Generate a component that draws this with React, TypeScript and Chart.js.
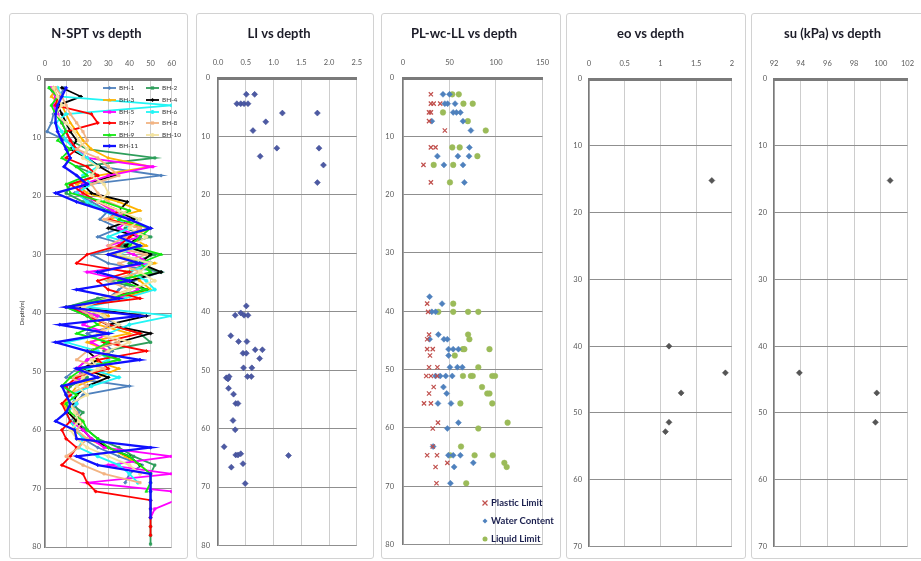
import React, { useEffect, useRef } from 'react';
import { Chart, registerables } from 'chart.js';

Chart.register(...registerables);

const FONT = 'Lato, "Open Sans", "DejaVu Sans", sans-serif';
Chart.defaults.font.family = FONT;

// ---------------- N-SPT data ----------------
const sptDepths = [1.5, 3, 4.5, 6, 7.5, 9, 10.5, 12, 13.5, 15, 16.5, 18, 19.5, 21, 22.5, 24, 25.5, 27, 28.5, 30, 31.5, 33, 34.5, 36, 37.5, 39, 40.5, 42, 43.5, 45, 46.5, 48, 49.5, 51, 52.5, 54, 55.5, 57, 58.5, 60, 61.5, 63, 64.5, 66, 67.5, 69, 70.5, 72, 73.5, 75, 76.5, 78, 79.5];

const bh1 = [9, 7, 5, 4, 3, 1, 10, 15, 20, 26, 55, 20, 14, 22, 30, 26, 35, 25, 40, 22, 30, 55, 42, 35, 30, 12, 25, 35, 20, 28, 32, 20, 15, 10, 40, 18, 14, 16, 12, 15, 18, 25, 35, 46, 40, 38];
const bh2 = [2, 5, 7, 6, 8, 10, 12, 20, 52, 15, 25, 12, 10, 18, 30, 45, 38, 50, 35, 52, 40, 55, 30, 48, 25, 10, 20, 30, 45, 50, 28, 35, 15, 20, 12, 10, 12, 18, 14, 20, 25, 35, 42, 52, 50, 50, 50, 50, 50, 50, 50, 50, 50];
const bh3 = [5, 3, 8, 10, 12, 15, 18, 22, 30, 50, 25, 15, 20, 35, 45, 30, 50, 40, 48, 30, 52, 38, 45, 50, 35, 15, 30, 25, 40, 20, 30, 22, 35, 25, 15, 12, 9, 11, 15, 13, 20, 30, 38, 45, 50];
const bh4 = [8, 17, 6, 8, 10, 12, 15, 12, 20, 26, 33, 18, 22, 39, 35, 42, 30, 45, 38, 50, 45, 55, 40, 48, 30, 15, 48, 30, 50, 35, 20, 25, 18, 30, 20, 15, 13, 11, 15, 18, 22, 30, 40, 45];
const bh5 = [3, 5, 4, 6, 8, 10, 12, 15, 20, 51, 30, 18, 15, 25, 32, 40, 35, 45, 30, 42, 50, 20, 38, 44, 35, 10, 25, 18, 30, 22, 30, 20, 15, 18, 10, 12, 15, 10, 12, 18, 22, 28, 60, 30, 60, 20, 60, 62, 52, 50];
const bh6 = [6, 8, 60, 10, 5, 8, 10, 14, 20, 25, 18, 22, 15, 20, 28, 35, 40, 30, 45, 35, 50, 40, 48, 52, 38, 20, 60, 40, 30, 10, 25, 30, 20, 35, 22, 12, 15, 10, 12, 15, 18, 16, 25, 35, 40, 44];
const bh7 = [4, 6, 5, 22, 25, 10, 12, 15, 10, 20, 25, 12, 18, 25, 35, 30, 45, 40, 35, 20, 15, 40, 25, 30, 45, 12, 20, 30, 45, 28, 48, 25, 30, 15, 10, 12, 8, 10, 12, 8, 10, 15, 12, 8, 18, 20, 24, 50, 50, 50, 50, 50];
const bh8 = [5, 8, 10, 12, 15, 18, 20, 15, 25, 30, 35, 22, 25, 30, 40, 28, 45, 38, 30, 48, 35, 45, 30, 40, 28, 15, 22, 30, 25, 35, 20, 15, 28, 12, 20, 10, 12, 15, 18, 15, 20, 16, 10, 18, 28, 45];
const bh9 = [2, 6, 3, 5, 8, 10, 6, 12, 8, 15, 20, 10, 12, 28, 40, 35, 50, 45, 40, 55, 45, 50, 35, 48, 30, 10, 20, 25, 15, 30, 22, 35, 18, 12, 8, 15, 10, 12, 18, 20, 25, 30, 40, 45, 50, 50, 48];
const bh10 = [4, 6, 8, 5, 10, 14, 16, 20, 18, 25, 22, 28, 30, 25, 35, 45, 40, 48, 42, 35, 50, 45, 52, 40, 30, 18, 28, 35, 25, 40, 30, 22, 25, 18, 15, 20, 12, 14, 16, 12, 15, 20, 30, 40, 45];
const bh11 = [10, 8, 6, 5, 5, 6, 8, 10, 12, 9, 15, 20, 5, 15, 28, 40, 50, 35, 45, 30, 45, 25, 40, 15, 35, 10, 45, 7, 30, 5, 20, 45, 15, 25, 8, 10, 12, 10, 5, 14, 15, 50, 15, 25, 50, 50, 50, 50, 50, 50];

const bhNames = ['BH-1', 'BH-2', 'BH-3', 'BH-4', 'BH-5', 'BH-6', 'BH-7', 'BH-8', 'BH-9', 'BH-10', 'BH-11'];
const bhValues = [bh1, bh2, bh3, bh4, bh5, bh6, bh7, bh8, bh9, bh10, bh11];
const bhColors = ['#4F81BD', '#2E9E5B', '#FFB300', '#000000', '#FF00FF', '#22F5F5', '#FF0000', '#F2B483', '#11E811', '#F3E3A0', '#1010FF'];
const bhMarkers = ['rectRot', 'rect', 'triangle', 'rectRot', 'rect', 'circle', 'rectRot', 'rect', 'triangle', 'circle', 'rectRot'];

// ---------------- LI data ----------------
const liDepth = [2.8, 2.8, 4.4, 4.4, 4.4, 4.4, 6.0, 6.0, 7.5, 9.0, 12.0, 12.0, 13.4, 14.9, 17.9, 39.0, 40.6, 40.2, 40.6, 40.6, 44.1, 45.1, 45.1, 47.1, 47.1, 46.5, 46.5, 48.0, 49.6, 49.6, 51.1, 51.1, 51.3, 51.5, 51.1, 53.1, 54.1, 55.7, 55.7, 58.6, 60.2, 63.1, 64.5, 64.5, 64.3, 66.6, 66.0, 64.6, 69.4];
const liValue = [0.51, 0.66, 0.34, 0.41, 0.47, 0.54, 1.16, 1.79, 0.86, 0.63, 1.06, 1.82, 0.76, 1.90, 1.79, 0.51, 0.31, 0.41, 0.47, 0.54, 0.23, 0.37, 0.52, 0.45, 0.51, 0.67, 0.80, 0.75, 0.46, 0.61, 0.53, 0.60, 0.15, 0.18, 0.20, 0.19, 0.28, 0.32, 0.36, 0.27, 0.31, 0.11, 0.32, 0.36, 0.41, 0.24, 0.45, 1.27, 0.49];

// ---------------- PL / wc / LL data ----------------
const plDepth = [2.8, 4.4, 4.4, 4.4, 5.9, 5.9, 7.4, 9.0, 11.9, 11.9, 14.9, 17.9, 38.7, 40.1, 44.0, 44.8, 46.5, 46.5, 47.6, 49.6, 49.6, 51.1, 51.1, 51.1, 53.0, 54.1, 55.8, 55.8, 59.1, 60.1, 63.2, 64.7, 64.7, 66.0, 66.7, 69.5];
const plValue = [30, 30, 33, 40, 28, 30, 28, 45, 30, 35, 22, 30, 26, 27, 28, 26, 26, 32, 29, 28, 37, 25, 30, 36.6, 33, 28, 22.6, 30, 37.6, 32, 32, 26, 36.6, 47.7, 35, 36];
const wcDepth = [2.8, 2.8, 4.4, 4.4, 4.4, 5.9, 5.9, 5.9, 7.4, 7.4, 9.0, 11.9, 13.4, 13.4, 13.4, 14.9, 14.9, 17.9, 37.5, 38.7, 40.1, 40.1, 44.0, 44.8, 44.8, 44.8, 46.5, 46.5, 46.5, 47.6, 49.6, 49.6, 49.6, 51.1, 51.1, 51.1, 51.1, 53.0, 54.1, 55.8, 55.8, 59.1, 60.1, 63.2, 64.7, 64.7, 64.7, 66.0, 66.7, 69.5];
const wcValue = [43, 50, 45, 48, 56, 54, 57.5, 61.7, 31, 64.5, 73, 71.4, 37, 59, 71, 44, 64.5, 66, 28.6, 42, 31, 35, 38, 28.6, 44, 47.7, 49, 54, 59.6, 49, 50.5, 58.5, 63.8, 35, 40, 46, 53, 43.5, 47, 37.6, 51.6, 59.6, 47.7, 32.4, 48.8, 54, 61.7, 75.6, 55, 51];
const llDepth = [2.8, 2.8, 4.4, 4.4, 5.9, 7.4, 9.0, 11.9, 11.9, 13.4, 14.9, 14.9, 17.9, 38.7, 40.1, 40.1, 40.1, 40.1, 44.0, 44.8, 46.5, 46.5, 46.5, 47.6, 49.6, 51.1, 51.1, 51.1, 51.1, 51.1, 53.0, 54.1, 54.1, 55.8, 55.8, 59.1, 60.1, 63.2, 64.7, 64.7, 64.7, 66.0, 66.7, 69.5];
const llValue = [53, 60, 65, 75, 43, 69.7, 89, 53, 61, 80, 33, 54, 50.5, 54, 38, 54, 70, 81, 70, 71.4, 64.5, 66, 93, 55.7, 81, 64.5, 73, 75, 96, 99, 85, 90.6, 93, 61.7, 96, 112.5, 81, 62.4, 50.5, 77, 96.5, 109, 111.5, 68];

// ---------------- eo / su data ----------------
const eoDepth = [15.2, 40, 44, 47, 51.4, 52.8];
const eoValue = [1.72, 1.12, 1.91, 1.29, 1.12, 1.07];
const suDepth = [15.2, 44, 47, 51.4];
const suValue = [100.7, 93.9, 99.7, 99.6];

const pts = (xs: number[], ys: number[]) => xs.map((x, i) => ({ x, y: ys[i] }));

// ---------------- drawing helpers ----------------
function drawMarker(ctx: CanvasRenderingContext2D, style: string, x: number, y: number, r: number, fill: string, stroke: string) {
  ctx.save();
  ctx.fillStyle = fill;
  ctx.strokeStyle = stroke;
  ctx.lineWidth = 1.2;
  ctx.beginPath();
  if (style === 'rectRot') {
    ctx.moveTo(x, y - r); ctx.lineTo(x + r, y); ctx.lineTo(x, y + r); ctx.lineTo(x - r, y); ctx.closePath(); ctx.fill();
  } else if (style === 'rect') {
    ctx.rect(x - r * 0.8, y - r * 0.8, r * 1.6, r * 1.6); ctx.fill();
  } else if (style === 'triangle') {
    ctx.moveTo(x, y - r); ctx.lineTo(x + r, y + r * 0.8); ctx.lineTo(x - r, y + r * 0.8); ctx.closePath(); ctx.fill();
  } else if (style === 'crossRot') {
    ctx.moveTo(x - r, y - r); ctx.lineTo(x + r, y + r); ctx.moveTo(x + r, y - r); ctx.lineTo(x - r, y + r); ctx.stroke();
  } else {
    ctx.arc(x, y, r, 0, Math.PI * 2); ctx.fill();
  }
  ctx.restore();
}

type LegendItem = { index: number; dx: number; dy: number };
function makeLegendPlugin(id: string, items: LegendItem[], cfg: { lineLen: number; gap: number; font: string; color: string; markerR: number }) {
  return {
    id,
    afterDatasetsDraw(chart: any) {
      const { ctx, chartArea } = chart;
      ctx.save();
      ctx.font = cfg.font;
      ctx.textBaseline = 'middle';
      ctx.textAlign = 'left';
      for (const it of items) {
        const ds = chart.data.datasets[it.index];
        const x = chartArea.left + it.dx;
        const y = chartArea.top + it.dy;
        const color = ds.borderColor as string;
        let mx = x;
        if (cfg.lineLen > 0) {
          ctx.strokeStyle = color;
          ctx.lineWidth = ds.borderWidth || 1.5;
          ctx.beginPath(); ctx.moveTo(x, y); ctx.lineTo(x + cfg.lineLen, y); ctx.stroke();
          mx = x + cfg.lineLen / 2;
        }
        drawMarker(ctx, ds.pointStyle, mx, y, cfg.markerR, (ds.backgroundColor as string) || color, color);
        ctx.fillStyle = cfg.color;
        ctx.fillText(ds.label, x + cfg.lineLen + cfg.gap, y);
      }
      ctx.restore();
    },
  };
}

type Spec = {
  title: string;
  xMin: number; xMax: number; xStep: number; xFmt?: (v: number) => string;
  yMax: number;
  canvasW: number; canvasH: number;
  areaLeft: number; areaTop: number; padRight: number; padBottom: number; padLeft: number;
  yPad: number; yTitle?: string;
};

const TITLE_H = 13 * 1.2 + 12 + 4;

function buildOptions(s: Spec): any {
  return {
    animation: false,
    responsive: false,
    maintainAspectRatio: false,
    events: [],
    layout: { padding: { left: s.padLeft, right: s.padRight, top: 0, bottom: s.padBottom } },
    plugins: {
      legend: { display: false },
      tooltip: { enabled: false },
      title: {
        display: true,
        text: s.title,
        color: '#1c1c28',
        font: { family: FONT, size: 13, weight: 'bold', lineHeight: 1.2 },
        padding: { top: 12, bottom: 4 },
      },
    },
    scales: {
      x: {
        type: 'linear',
        position: 'top',
        min: s.xMin,
        max: s.xMax,
        ticks: {
          stepSize: s.xStep,
          padding: 11,
          color: '#5a5a5a',
          font: { size: 7.5 },
          maxRotation: 0,
          callback: (v: number) => (s.xFmt ? s.xFmt(v) : String(v)),
        },
        grid: { color: '#cdcdcd', lineWidth: 1, drawTicks: false },
        border: { display: true, color: '#7a7a7a', width: 3 },
        afterFit: (sc: any) => { sc.height = s.areaTop - TITLE_H; },
      },
      y: {
        type: 'linear',
        reverse: true,
        min: 0,
        max: s.yMax,
        ticks: { stepSize: 10, padding: s.yPad, color: '#5a5a5a', font: { size: 7.5 } },
        grid: { color: '#8f8f8f', lineWidth: 1, drawTicks: false },
        border: { display: true, color: '#7a7a7a', width: 1.5 },
        title: s.yTitle
          ? { display: true, text: s.yTitle, color: '#333', font: { size: 6 }, padding: 0 }
          : { display: false },
        afterFit: (sc: any) => { sc.width = s.areaLeft - s.padLeft; },
      },
    },
  };
}

// ---------------- chart configs ----------------
const specs: { frame: [number, number, number, number]; spec: Spec; make: (s: Spec) => any }[] = [
  {
    frame: [9, 13, 179, 546],
    spec: { title: 'N-SPT vs depth', xMin: 0, xMax: 60, xStep: 10, yMax: 80, canvasW: 177, canvasH: 544, areaLeft: 35, areaTop: 65, padRight: 12, padBottom: 11, padLeft: 8, yPad: 4, yTitle: 'Depth(m)' },
    make: (s) => {
      const datasets = bhNames.map((name, i) => ({
        label: name,
        data: pts(bhValues[i], sptDepths.slice(0, bhValues[i].length)),
        showLine: true,
        borderColor: bhColors[i],
        backgroundColor: bhColors[i],
        borderWidth: i === 10 ? 2.3 : 1.8,
        pointStyle: bhMarkers[i],
        pointRadius: 1.6,
        pointBorderWidth: 0.8,
        tension: 0,
        order: 10 - i,
      }));
      const legendItems: LegendItem[] = [
        { index: 0, dx: 58, dy: 9 }, { index: 1, dx: 101, dy: 9 },
        { index: 2, dx: 58, dy: 21 }, { index: 3, dx: 101, dy: 21 },
        { index: 4, dx: 58, dy: 33 }, { index: 5, dx: 101, dy: 33 },
        { index: 6, dx: 58, dy: 44 }, { index: 7, dx: 101, dy: 44 },
        { index: 8, dx: 58, dy: 56 }, { index: 9, dx: 101, dy: 56 },
        { index: 10, dx: 58, dy: 67 },
      ];
      return {
        type: 'scatter',
        data: { datasets },
        options: buildOptions(s),
        plugins: [makeLegendPlugin('sptLegend', legendItems, { lineLen: 13, gap: 3, font: `6.5px ${FONT}`, color: '#333', markerR: 2 })],
      };
    },
  },
  {
    frame: [196, 13, 178, 546],
    spec: { title: 'LI vs depth', xMin: 0, xMax: 2.5, xStep: 0.5, xFmt: (v) => v.toFixed(1), yMax: 80, canvasW: 176, canvasH: 544, areaLeft: 21, areaTop: 64, padRight: 12, padBottom: 11, padLeft: 0, yPad: 8 },
    make: (s) => ({
      type: 'scatter',
      data: {
        datasets: [{
          label: 'LI', data: pts(liValue, liDepth),
          pointStyle: 'rectRot', pointRadius: 3, backgroundColor: '#4d5aa3', borderColor: '#3b4790', pointBorderWidth: 0.5,
        }],
      },
      options: buildOptions(s),
    }),
  },
  {
    frame: [381, 13, 180, 546],
    spec: { title: 'PL-wc-LL vs depth', xMin: 0, xMax: 150, xStep: 50, yMax: 80, canvasW: 178, canvasH: 544, areaLeft: 21, areaTop: 64, padRight: 14, padBottom: 12, padLeft: 0, yPad: 9 },
    make: (s) => {
      const datasets = [
        { label: 'Plastic Limit', data: pts(plValue, plDepth), pointStyle: 'crossRot', pointRadius: 3, borderColor: '#C0504D', backgroundColor: '#C0504D', pointBorderWidth: 1.2 },
        { label: 'Water Content', data: pts(wcValue, wcDepth), pointStyle: 'rectRot', pointRadius: 3, borderColor: '#4F81BD', backgroundColor: '#4F81BD', pointBorderWidth: 0.5 },
        { label: 'Liquid Limit', data: pts(llValue, llDepth), pointStyle: 'circle', pointRadius: 2.8, borderColor: '#9BBB59', backgroundColor: '#9BBB59', pointBorderWidth: 0.5 },
      ];
      const items: LegendItem[] = [
        { index: 0, dx: 82, dy: 425 },
        { index: 1, dx: 82, dy: 443 },
        { index: 2, dx: 82, dy: 461 },
      ];
      return {
        type: 'scatter',
        data: { datasets },
        options: buildOptions(s),
        plugins: [makeLegendPlugin('pwlLegend', items, { lineLen: 0, gap: 6, font: `bold 9.5px ${FONT}`, color: '#1a1f4e', markerR: 2.5 })],
      };
    },
  },
  {
    frame: [566, 13, 180, 546],
    spec: { title: 'eo vs depth', xMin: 0, xMax: 2, xStep: 0.5, yMax: 70, canvasW: 178, canvasH: 544, areaLeft: 22, areaTop: 65, padRight: 11, padBottom: 10, padLeft: 0, yPad: 7 },
    make: (s) => ({
      type: 'scatter',
      data: {
        datasets: [{
          label: 'eo', data: pts(eoValue, eoDepth),
          pointStyle: 'rectRot', pointRadius: 3, backgroundColor: '#555555', borderColor: '#444444', pointBorderWidth: 0.5,
        }],
      },
      options: buildOptions(s),
    }),
  },
  {
    frame: [751, 13, 175, 546],
    spec: { title: 'su (kPa) vs depth', xMin: 92, xMax: 102, xStep: 2, yMax: 70, canvasW: 173, canvasH: 544, areaLeft: 22, areaTop: 65, padRight: 12, padBottom: 10, padLeft: 0, yPad: 7 },
    make: (s) => ({
      type: 'scatter',
      data: {
        datasets: [{
          label: 'su', data: pts(suValue, suDepth),
          pointStyle: 'rectRot', pointRadius: 3, backgroundColor: '#555555', borderColor: '#444444', pointBorderWidth: 0.5,
        }],
      },
      options: buildOptions(s),
    }),
  },
];

function Panel({ frame, spec, make }: { frame: [number, number, number, number]; spec: Spec; make: (s: Spec) => any }) {
  const ref = useRef<HTMLCanvasElement>(null);
  useEffect(() => {
    if (!ref.current) return;
    const chart = new Chart(ref.current, make(spec));
    return () => chart.destroy();
  }, []);
  const [l, t, w, h] = frame;
  return (
    <div
      style={{
        position: 'absolute', left: l, top: t, width: w - 2, height: h - 2,
        border: '1px solid #d2d2d2', borderRadius: 3, background: '#fff',
      }}
    >
      <canvas ref={ref} width={spec.canvasW} height={spec.canvasH} style={{ display: 'block' }} />
    </div>
  );
}

export default function App() {
  return (
    <div style={{ position: 'absolute', left: 0, top: 0, width: 921, height: 561, overflow: 'hidden', background: '#fff' }}>
      {specs.map((p, i) => (
        <Panel key={i} frame={p.frame} spec={p.spec} make={p.make} />
      ))}
    </div>
  );
}
